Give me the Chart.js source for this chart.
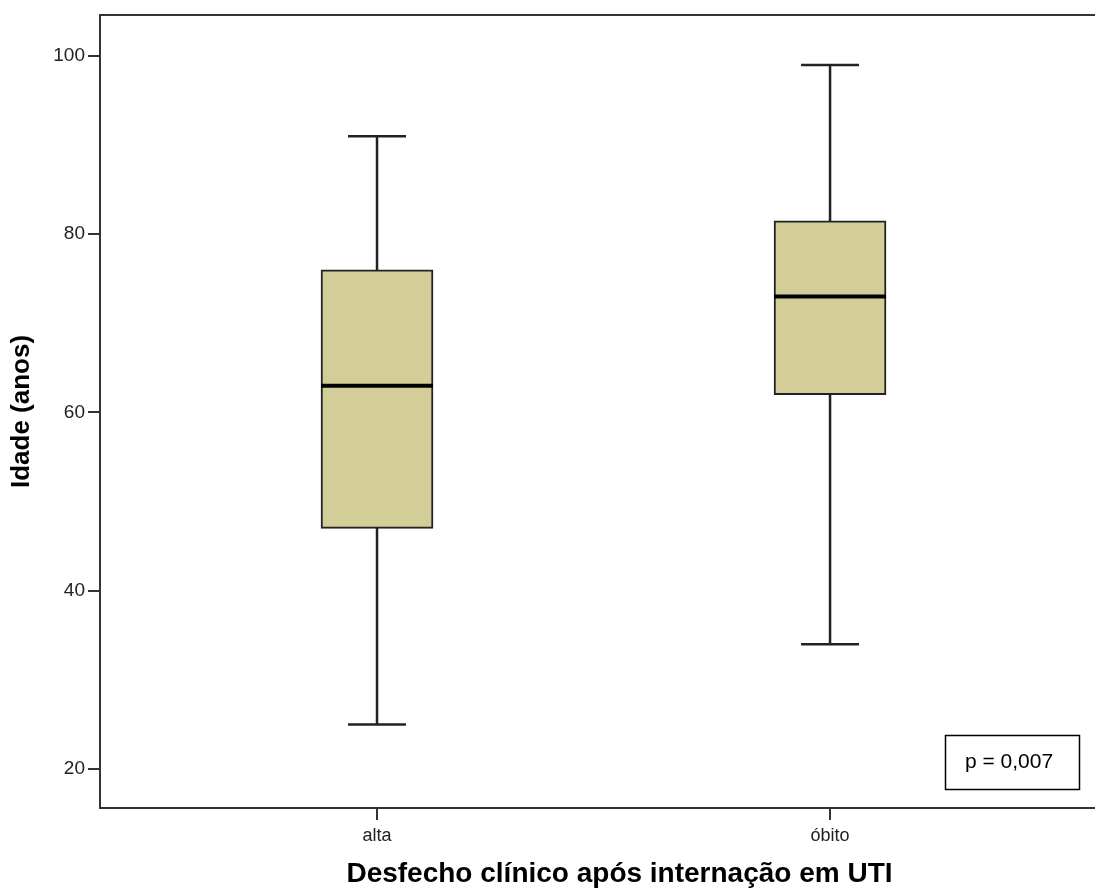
<!DOCTYPE html>
<html>
<head>
<meta charset="utf-8">
<script src="https://cdn.jsdelivr.net/npm/chart.js@4/dist/chart.umd.min.js"></script>
<style>
  html, body { margin: 0; padding: 0; background: #fff; overflow: hidden; }
  canvas { display: block; }
</style>
</head>
<body>
<!-- plot frame continues past the right edge of the window, as in the original crop -->
<canvas id="boxChart" width="1139" height="888"></canvas>
<script>
"use strict";

const categories = ["alta", "óbito"];
const whiskerLow = [25, 34];
const quartile1 = [47, 62];
const medians = [63, 73];
const quartile3 = [76, 81.5];
const whiskerHigh = [91, 99];
const yTickValues = [20, 40, 60, 80, 100];
const pValueText = "p = 0,007";

const FONT = "'Liberation Sans', Arial, sans-serif";
const LINE = "#222";
const AXIS = "#333";

// whiskers behind the boxes, medians on top
const boxplotLines = {
  id: "boxplotLines",
  beforeDatasetsDraw(chart) {
    const x = chart.scales.x, y = chart.scales.y, ctx = chart.ctx;
    ctx.save();
    ctx.strokeStyle = LINE;
    ctx.lineWidth = 2.5;
    for (let i = 0; i < categories.length; i++) {
      const px = x.getPixelForValue(i);
      const lo = y.getPixelForValue(whiskerLow[i]);
      const hi = y.getPixelForValue(whiskerHigh[i]);
      ctx.beginPath();
      ctx.moveTo(px, lo); ctx.lineTo(px, hi);
      ctx.moveTo(px - 29, lo); ctx.lineTo(px + 29, lo);
      ctx.moveTo(px - 29, hi); ctx.lineTo(px + 29, hi);
      ctx.stroke();
    }
    ctx.restore();
  },
  afterDatasetsDraw(chart) {
    const x = chart.scales.x, y = chart.scales.y, ctx = chart.ctx;
    ctx.save();
    ctx.strokeStyle = "#000";
    ctx.lineWidth = 4;
    for (let i = 0; i < categories.length; i++) {
      const px = x.getPixelForValue(i);
      const py = y.getPixelForValue(medians[i]);
      ctx.beginPath();
      ctx.moveTo(px - 56, py); ctx.lineTo(px + 56, py);
      ctx.stroke();
    }
    ctx.restore();
  },
  afterDraw(chart) {
    const ctx = chart.ctx;
    ctx.save();
    ctx.strokeStyle = "#000";
    ctx.lineWidth = 1.5;
    ctx.strokeRect(945.5, 735.5, 134, 54);
    ctx.fillStyle = "#000";
    ctx.font = "21px " + FONT;
    ctx.textAlign = "center";
    ctx.textBaseline = "middle";
    ctx.fillText(pValueText, 1009, 762);
    ctx.restore();
  }
};

new Chart(document.getElementById("boxChart"), {
  type: "bar",
  data: {
    datasets: [{
      data: categories.map((c, i) => ({ x: i, y: [quartile1[i], quartile3[i]] })),
      backgroundColor: "#d3ce98",
      borderColor: LINE,
      borderWidth: 2,
      borderSkipped: false,
      barThickness: 112
    }]
  },
  options: {
    responsive: false,
    animation: false,
    layout: { padding: 0 },
    plugins: {
      legend: { display: false },
      tooltip: { enabled: false }
    },
    scales: {
      x: {
        type: "linear",
        position: "bottom",
        offset: false,
        min: -0.6115,
        max: 1.682,
        afterBuildTicks: (scale) => { scale.ticks = categories.map((c, i) => ({ value: i })); },
        afterFit: (scale) => { scale.height = 80; },
        ticks: {
          callback: (v) => categories[v],
          color: "#222",
          font: { family: FONT, size: 18 },
          padding: 5,
          maxRotation: 0
        },
        grid: { offset: false, drawOnChartArea: false, drawTicks: true, tickLength: 12, color: AXIS, lineWidth: 2 },
        border: { display: true, color: AXIS, width: 2 },
        title: {
          display: true,
          text: "Desfecho clínico após internação em UTI",
          color: "#000",
          font: { family: FONT, size: 28, weight: "bold", lineHeight: 1 },
          padding: { top: 0, bottom: 0 }
        }
      },
      xTop: {
        type: "linear",
        position: "top",
        offset: false,
        min: 0,
        max: 1,
        afterFit: (scale) => { scale.height = 15; },
        ticks: { display: false },
        grid: { display: false, drawTicks: false },
        border: { display: true, color: AXIS, width: 2 }
      },
      y: {
        min: 15.62,
        max: 104.6,
        afterBuildTicks: (scale) => { scale.ticks = yTickValues.map(v => ({ value: v })); },
        afterFit: (scale) => { scale.width = 100; },
        ticks: {
          color: "#222",
          font: { family: FONT, size: 19 },
          padding: 3
        },
        grid: { drawOnChartArea: false, drawTicks: true, tickLength: 12, color: AXIS, lineWidth: 2 },
        border: { display: true, color: AXIS, width: 2 },
        title: {
          display: true,
          text: "Idade (anos)",
          color: "#000",
          font: { family: FONT, size: 26, weight: "bold", lineHeight: 1.2 },
          padding: { top: 6, bottom: 0 }
        }
      }
    }
  },
  plugins: [boxplotLines]
});
</script>
</body>
</html>
